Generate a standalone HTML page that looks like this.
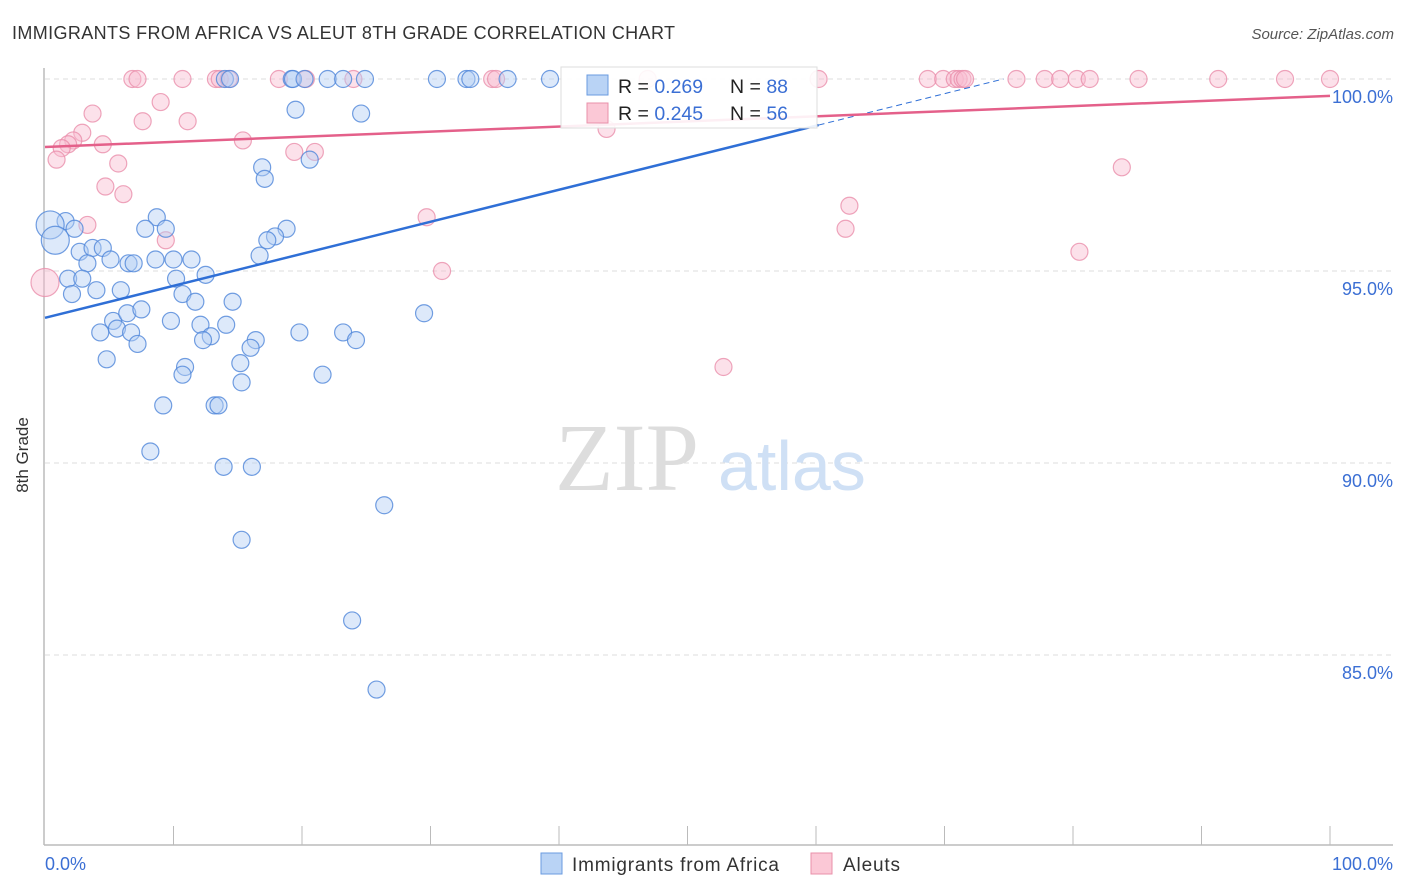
<!DOCTYPE html>
<html><head><meta charset="utf-8"><style>
body{margin:0;background:#fff;font-family:"Liberation Sans",sans-serif;}
svg{display:block}
</style></head><body>
<svg id="chart" width="1406" height="892">
<text x="12" y="39" font-size="18" fill="#333" textLength="663">IMMIGRANTS FROM AFRICA VS ALEUT 8TH GRADE CORRELATION CHART</text>
<text x="1394" y="39" font-size="15" fill="#555" text-anchor="end" font-style="italic">Source: ZipAtlas.com</text>
<text x="28" y="455" font-size="17" fill="#333" text-anchor="middle" transform="rotate(-90 28 455)">8th Grade</text>
<g id="grid"></g>
<g><text x="555" y="490" font-size="96" fill="#ddd" font-family="Liberation Serif,serif">ZIP</text><text x="718" y="490" font-size="70" fill="#cfe0f5">atlas</text></g>
<g id="axes"></g>
<g id="pts"></g>
<g id="trends"></g>
<g>
<rect x="561" y="67" width="256" height="61" fill="#fff" fill-opacity="0.9" stroke="#ddd"/>
<rect x="587" y="75" width="21" height="20" fill="#b9d3f5" stroke="#6a9be0"/>
<rect x="587" y="103" width="21" height="20" fill="#fbc8d6" stroke="#e890aa"/>
<text x="618" y="93" font-size="19.5" fill="#222">R = <tspan fill="#3b6fd4">0.269</tspan></text>
<text x="730" y="93" font-size="19.5" fill="#222">N = <tspan fill="#3b6fd4">88</tspan></text>
<text x="618" y="120" font-size="19.5" fill="#222">R = <tspan fill="#3b6fd4">0.245</tspan></text>
<text x="730" y="120" font-size="19.5" fill="#222">N = <tspan fill="#3b6fd4">56</tspan></text>
</g>
<g>
<rect x="541" y="853" width="21" height="21" fill="#b9d3f5" stroke="#6a9be0"/>
<text x="572" y="871" font-size="19" fill="#333" textLength="207">Immigrants from Africa</text>
<rect x="811" y="853" width="21" height="21" fill="#fbc8d6" stroke="#e890aa"/>
<text x="843" y="871" font-size="19" fill="#333" textLength="57">Aleuts</text>
</g>
</svg>
<script>
const blueX=[14.0,14.4,19.2,19.3,20.2,22.0,23.2,24.9,30.5,32.8,33.1,36.0,39.3,19.5,24.6,16.9,17.1,20.6,8.7,7.8,9.4,1.6,2.3,2.7,3.7,4.5,3.3,5.1,6.5,6.9,8.6,10.0,11.4,10.2,12.5,1.8,2.9,2.1,4.0,5.9,10.7,11.7,14.6,18.8,17.9,17.3,16.7,5.3,6.4,7.5,9.8,12.1,14.1,4.3,5.6,6.7,7.2,12.9,12.3,16.4,16.0,19.8,23.2,24.2,29.5,4.8,15.2,10.9,10.7,15.3,21.6,9.2,13.2,13.5,8.2,13.9,16.1,26.4,15.3,23.9,25.8];
const blueY=[100,100,100,100,100,100,100,100,100,100,100,100,100,99.2,99.1,97.7,97.4,97.9,96.4,96.1,96.1,96.3,96.1,95.5,95.6,95.6,95.2,95.3,95.2,95.2,95.3,95.3,95.3,94.8,94.9,94.8,94.8,94.4,94.5,94.5,94.4,94.2,94.2,96.1,95.9,95.8,95.4,93.7,93.9,94.0,93.7,93.6,93.6,93.4,93.5,93.4,93.1,93.3,93.2,93.2,93.0,93.4,93.4,93.2,93.9,92.7,92.6,92.5,92.3,92.1,92.3,91.5,91.5,91.5,90.3,89.9,89.9,88.9,88.0,85.9,84.1];
const blueBigX=[0.4,0.8];
const blueBigY=[96.2,95.8];
const pinkX=[6.8,7.2,10.7,13.3,13.6,14.3,18.2,20.3,24.0,34.8,35.1,46.9,60.2,68.7,69.9,70.8,71.1,71.4,71.6,75.6,77.8,79.0,80.3,81.3,85.1,91.3,96.5,100,3.7,9.0,7.6,11.1,2.9,2.2,1.8,1.3,0.9,4.5,5.7,4.7,6.1,15.4,19.4,21.0,43.7,3.3,9.4,29.7,30.9,62.6,62.3,83.8,80.5,52.8];
const pinkY=[100,100,100,100,100,100,100,100,100,100,100,100,100,100,100,100,100,100,100,100,100,100,100,100,100,100,100,100,99.1,99.4,98.9,98.9,98.6,98.4,98.3,98.2,97.9,98.3,97.8,97.2,97.0,98.4,98.1,98.1,98.7,96.2,95.8,96.4,95.0,96.7,96.1,97.7,95.5,92.5];
const pinkBigX=[0];
const pinkBigY=[94.7];
const yTicks=[100,95,90,85];
const yTickLabels=["100.0%","95.0%","90.0%","85.0%"];
const xTickCount=10;
const blueTrend=[93.78,0.0834];
const pinkTrend=[98.23,0.0133];

const NS="http://www.w3.org/2000/svg";
const X0=45,X1=1330,Y100=79,PX5=192;
const sx=v=>X0+(X1-X0)*v/100;
const sy=v=>Y100+(100-v)*PX5/5;
function mk(tag,attrs,parent){const e=document.createElementNS(NS,tag);for(const k in attrs)e.setAttribute(k,attrs[k]);parent.appendChild(e);return e;}
const grid=document.getElementById('grid'),axes=document.getElementById('axes'),pts=document.getElementById('pts'),tr=document.getElementById('trends');
yTicks.forEach((t,i)=>{
  const l=mk('line',{x1:45,x2:1393,y1:sy(t),y2:sy(t),stroke:'#ddd','stroke-dasharray':'5,4'},grid);
  
  
  const tx=mk('text',{x:1393,y:sy(t)+24,'font-size':18,fill:'#3b6fd4','text-anchor':'end'},axes);
  tx.textContent=yTickLabels[i];
  
  
});
let a=mk('line',{x1:44,x2:44,y1:68,y2:845,stroke:'#bbb','stroke-width':1.5},axes);


a=mk('line',{x1:44,x2:1393,y1:845,y2:845,stroke:'#bbb','stroke-width':1.5},axes);


for(let i=1;i<=xTickCount;i++){const t=mk('line',{x1:sx(i*10),x2:sx(i*10),y1:826,y2:845,stroke:'#bbb'},axes);

}
let t=mk('text',{x:45,y:870,'font-size':18,fill:'#3b6fd4'},axes);t.textContent='0.0%';


t=mk('text',{x:1393,y:870,'font-size':18,fill:'#3b6fd4','text-anchor':'end'},axes);t.textContent='100.0%';


function dots(xs,ys,r,fill,stroke,name){xs.forEach((x,i)=>{const c=mk('circle',{cx:sx(x),cy:sy(ys[i]),r:r,fill:fill,'fill-opacity':0.45,stroke:stroke,'stroke-width':1.2,'stroke-opacity':0.8},pts);

});}
dots(pinkX,pinkY,8.5,'#f9bdd0','#ea8fab','aleuts-point');
dots(pinkBigX,pinkBigY,14,'#f9bdd0','#ea8fab','aleuts-point');
dots(blueX,blueY,8.5,'#b3cff3','#4f86d9','africa-point');
dots(blueBigX,blueBigY,14,'#b3cff3','#4f86d9','africa-point');
const bEnd=(100-blueTrend[0])/blueTrend[1];
let l=mk('line',{x1:sx(0),y1:sy(blueTrend[0]),x2:sx(60.2),y2:sy(blueTrend[0]+blueTrend[1]*60.2),stroke:'#2f6fd6','stroke-width':2.5},tr);


l=mk('line',{x1:sx(60.2),y1:sy(blueTrend[0]+blueTrend[1]*60.2),x2:sx(bEnd),y2:sy(100),stroke:'#2f6fd6','stroke-width':1,'stroke-dasharray':'6,4'},tr);


l=mk('line',{x1:sx(0),y1:sy(pinkTrend[0]),x2:sx(100),y2:sy(pinkTrend[0]+pinkTrend[1]*100),stroke:'#e4608a','stroke-width':2.5},tr);


</script>
</body></html>
